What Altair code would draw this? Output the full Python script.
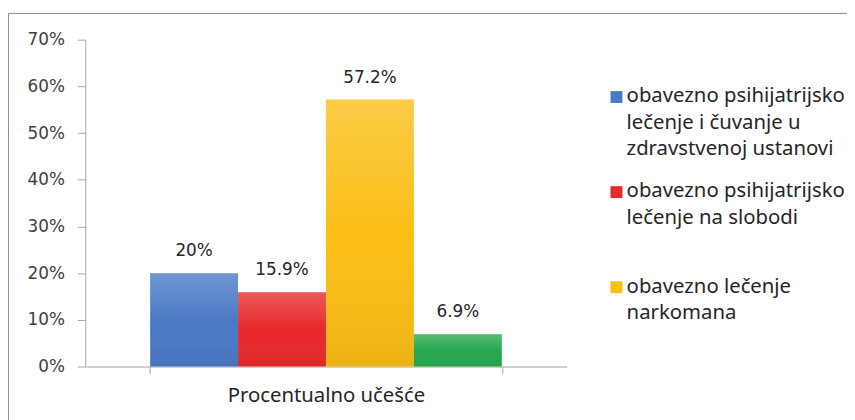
import altair as alt
import pandas as pd

category = "Procentualno učešće"
series = [
    "obavezno psihijatrijsko lečenje i čuvanje u zdravstvenoj ustanovi",
    "obavezno psihijatrijsko lečenje na slobodi",
    "obavezno lečenje narkomana",
    "obavezno lečenje alkoholičara",
]
values = [0.20, 0.159, 0.572, 0.069]
colors = ["#4A7AC5", "#E8292B", "#FBBE16", "#26A94D"]
legend_series = series[:3]
legend_lines = [
    ["obavezno psihijatrijsko", "lečenje i čuvanje u", "zdravstvenoj ustanovi"],
    ["obavezno psihijatrijsko", "lečenje na slobodi", " "],
    ["obavezno lečenje", "narkomana"],
]
y_ticks = [0, 0.1, 0.2, 0.3, 0.4, 0.5, 0.6, 0.7]

df = pd.DataFrame({"cat": [category] * 4, "series": series, "value": values})

def js_list(lines):
    return "[" + ",".join("'" + l + "'" for l in lines) + "]"

label_expr = ""
for name, lines in zip(legend_series, legend_lines):
    label_expr += f"datum.label == '{name}' ? {js_list(lines)} : "
label_expr += "datum.label"

AX_FONT = "DejaVu Sans"
TXT_FONT = "Noto Sans"

x = alt.X("cat:N", title=None,
          scale=alt.Scale(paddingInner=0, paddingOuter=0.1845),
          axis=alt.Axis(labelAngle=0, labelFont=TXT_FONT, labelFontSize=20.5,
                        labelColor="#262626", labelPadding=12, labelLimit=500,
                        domainColor="#A6A6A6", tickColor="#A6A6A6",
                        tickSize=7, tickBand="extent"))
xoff = alt.XOffset("series:N", sort=series, scale=alt.Scale(paddingInner=0, paddingOuter=0))
y = alt.Y("value:Q", title=None,
          scale=alt.Scale(domain=[0, 0.7], nice=False),
          axis=alt.Axis(values=y_ticks, format=".0%", grid=False,
                        labelFont=AX_FONT, labelFontSize=17, labelColor="#404040",
                        labelPadding=13, domainColor="#A6A6A6", tickColor="#A6A6A6",
                        tickSize=8))

base = alt.Chart(df)

bars = base.mark_bar().encode(
    x=x, xOffset=xoff, y=y,
    color=alt.Color("series:N", sort=series,
                    scale=alt.Scale(domain=series, range=colors),
                    legend=alt.Legend(title=None, values=legend_series,
                                      orient="none", legendX=526, legendY=37,
                                      symbolType="M-1,0.78H1V2.78H-1Z", symbolSize=144,
                                      symbolStrokeWidth=0, symbolOpacity=1,
                                      labelFont=TXT_FONT, labelFontSize=20.5,
                                      labelColor="#262626", labelLimit=400,
                                      labelExpr=label_expr, labelBaseline="top",
                                      rowPadding=12, labelOffset=0)),
)

shade = base.mark_bar(
    fill={"gradient": "linear", "x1": 0, "y1": 0, "x2": 0, "y2": 1,
          "stops": [{"offset": 0, "color": "rgba(255,255,255,0.22)"},
                    {"offset": 0.5, "color": "rgba(255,255,255,0.0)"},
                    {"offset": 1, "color": "rgba(0,0,0,0.06)"}]}
).encode(x=x, xOffset=xoff, y=y)

labels = base.mark_text(font=AX_FONT, fontSize=17, color="#262626",
                        baseline="alphabetic", dy=-17).encode(
    x=x, xOffset=xoff, y=y,
    text=alt.Text("value:Q", format=".1~%"),
)

border = alt.Chart(alt.Data(values=[{}])).mark_rect(
    fill="white", fillOpacity=0, stroke="#8C8C8C", strokeWidth=1
).encode(x=alt.value(-77.5), x2=alt.value(900), y=alt.value(-26.5), y2=alt.value(500))

chart = alt.layer(border, bars, shade, labels).properties(
    width=486, height=330,
    autosize=alt.AutoSizeParams(type="none"),
    padding={"left": 78, "top": 30, "right": 283, "bottom": 52},
).configure(
    style={"guide-label": {"lineHeight": 26.5}},
    view=alt.ViewConfig(stroke="transparent"),
)

chart.save("out.html", embed_options={"renderer": "svg", "actions": False})
